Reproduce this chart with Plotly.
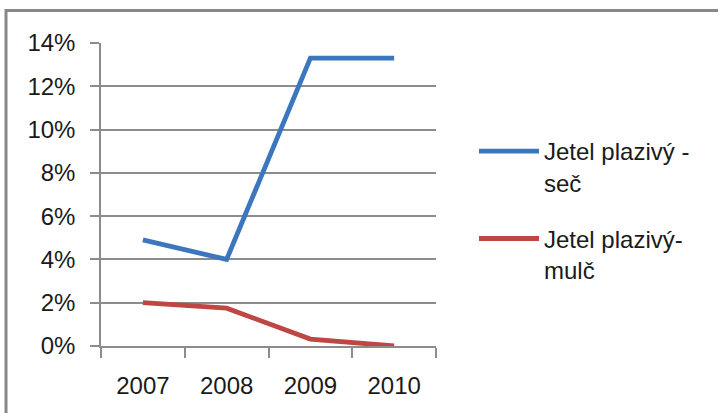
import plotly.graph_objects as go

years = ["2007", "2008", "2009", "2010"]
sec_values = [0.049, 0.040, 0.133, 0.133]
mulc_values = [0.020, 0.0175, 0.0032, 0.0]
series_names = ["Jetel plazivý -<br>seč", "Jetel plazivý-<br>mulč"]
y_ticks = [0, 0.02, 0.04, 0.06, 0.08, 0.10, 0.12, 0.14]
y_tick_labels = ["0%", "2%", "4%", "6%", "8%", "10%", "12%", "14%"]

FONT = "Liberation Sans"
GRID = "#8c8c8c"

fig = go.Figure()
fig.add_trace(go.Scatter(x=years, y=sec_values, mode="lines", name=series_names[0],
                         legendgroup="sec",
                         line=dict(color="#3c77be", width=4.8)))
fig.add_trace(go.Scatter(x=years, y=mulc_values, mode="lines", name=series_names[1],
                         legendgroup="mulc",
                         line=dict(color="#be4643", width=4.8)))

W, H = 718, 413
L, R, T, B = 101, 282, 43, 67
pw, ph = W - L - R, H - T - B

def px_x(p):
    return (p - L) / pw

def px_y(p):
    return (H - B - p) / ph

# chart frame: left and top edges
fig.add_shape(type="line", xref="paper", yref="paper",
              x0=px_x(6), x1=px_x(730), y0=px_y(10.5), y1=px_y(10.5),
              line=dict(color="#878787", width=3))
fig.add_shape(type="line", xref="paper", yref="paper",
              x0=px_x(6), x1=px_x(6), y0=px_y(9), y1=px_y(430),
              line=dict(color="#878787", width=3))

fig.update_layout(
    width=W, height=H,
    margin=dict(l=L, r=R, t=T, b=B, pad=0),
    paper_bgcolor="white", plot_bgcolor="white",
    font=dict(family=FONT, size=24, color="#1a1a1a"),
    legend=dict(x=px_x(474), y=px_y(129), xanchor="left", yanchor="top",
                font=dict(size=24), itemwidth=60, tracegroupgap=22,
                valign="top", bgcolor="rgba(0,0,0,0)"),
    showlegend=True,
)
fig.update_xaxes(type="category", range=[-0.5, 3.5], tickson="boundaries",
                 ticks="outside", ticklen=10, tickcolor=GRID, tickwidth=1.5,
                 showgrid=False, showline=True, linecolor=GRID, linewidth=1.5,
                 ticklabelstandoff=17, tickfont=dict(size=24))
fig.update_yaxes(range=[0, 0.14], tickvals=y_ticks, ticktext=y_tick_labels,
                 ticks="outside", ticklen=9, tickcolor=GRID, tickwidth=1.5,
                 showgrid=True, gridcolor=GRID, gridwidth=1.5,
                 showline=True, linecolor=GRID, linewidth=1.5,
                 zeroline=False, ticklabelstandoff=10, tickfont=dict(size=24))

fig.write_html("out.html")
